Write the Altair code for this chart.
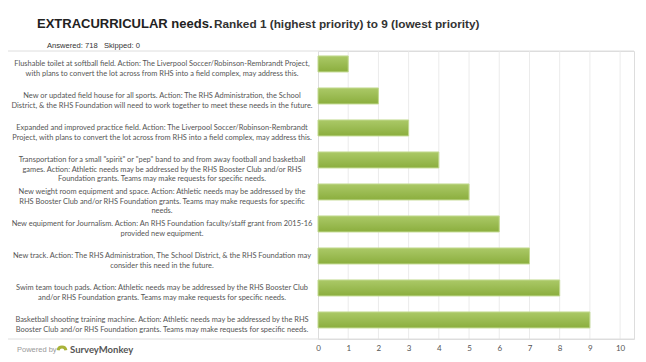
import altair as alt
import pandas as pd

TITLE_MAIN = "EXTRACURRICULAR needs."
TITLE_SUB = "Ranked 1 (highest priority) to 9 (lowest priority)"
ANSWERED = "Answered: 718"
SKIPPED = "Skipped: 0"
POWERED = "Powered by"
BRAND = "SurveyMonkey"

LABELS = [
    ["Flushable toilet at softball field. Action: The Liverpool Soccer/Robinson-Rembrandt Project,",
     "with plans to convert the lot across from RHS into a field complex, may address this."],
    ["New or updated field house for all sports. Action: The RHS Administration, the School",
     "District, & the RHS Foundation will need to work together to meet these needs in the future."],
    ["Expanded and improved practice field. Action: The Liverpool Soccer/Robinson-Rembrandt",
     "Project, with plans to convert the lot across from RHS into a field complex, may address this."],
    ["Transportation for a small \"spirit\" or \"pep\" band to and from away football and basketball",
     "games. Action: Athletic needs may be addressed by the RHS Booster Club and/or RHS",
     "Foundation grants. Teams may make requests for specific needs."],
    ["New weight room equipment and space. Action: Athletic needs may be addressed by the",
     "RHS Booster Club and/or RHS Foundation grants. Teams may make requests for specific",
     "needs."],
    ["New equipment for Journalism. Action: An RHS Foundation faculty/staff grant from 2015-16",
     "provided new equipment."],
    ["New track. Action: The RHS Administration, The School District, & the RHS Foundation may",
     "consider this need in the future."],
    ["Swim team touch pads. Action: Athletic needs may be addressed by the RHS Booster Club",
     "and/or RHS Foundation grants. Teams may make requests for specific needs."],
    ["Basketball shooting training machine. Action: Athletic needs may be addressed by the RHS",
     "Booster Club and/or RHS Foundation grants. Teams may make requests for specific needs."],
]
VALUES = [1, 2, 3, 4, 5, 6, 7, 8, 9]
TICKS = list(range(0, 11))
GRID = list(range(1, 11))

df = pd.DataFrame({
    "key": ["|".join(l) for l in LABELS],
    "value": VALUES,
})
grid_df = pd.DataFrame({"value": GRID})
one = pd.DataFrame({"a": [0]})

W, H = 316, 288

yenc = alt.Y("key:N", sort=None, axis=None,
             scale=alt.Scale(paddingInner=0.5, paddingOuter=0.25, align=0.31))
xscale = alt.Scale(domain=[0, 10.46], nice=False, zero=True)
xaxis = alt.Axis(values=TICKS, grid=False, domain=False, ticks=False,
                 labelFont="Lato", labelFontSize=8, labelColor="#555555",
                 labelPadding=5, title=None, labelFlush=False)
xenc = alt.X("value:Q", scale=xscale, axis=xaxis)

grid = alt.Chart(grid_df).mark_rule(color="#ebebeb", strokeWidth=1).encode(x=xenc)

hlines = alt.Chart(one).mark_rule(color="#dedede", strokeWidth=1).encode(
    x=alt.value(-316), x2=alt.value(316), y=alt.value(0)
) + alt.Chart(one).mark_rule(color="#dedede", strokeWidth=1).encode(
    x=alt.value(-316), x2=alt.value(316), y=alt.value(H)
)

bars = alt.Chart(df).mark_bar(
    color=alt.Gradient(
        gradient="linear",
        stops=[alt.GradientStop(color="#abc967", offset=0),
               alt.GradientStop(color="#8bae3e", offset=1)],
        x1=0, x2=0, y1=0, y2=1),
    stroke="#c3da92", strokeWidth=1,
).encode(x=xenc, y=yenc)

labels = alt.Chart(df).mark_text(
    align="center", baseline="middle", lineBreak="|", font="Lato",
    fontSize=7.45, color="#555555", lineHeight=9.6
).encode(
    y=yenc, text="key:N", x=alt.value(-156)
)

def txt(s, x, y, size, color, weight="normal", font="Liberation Sans",
        align="left", baseline="alphabetic"):
    return alt.Chart(one).mark_text(
        text=s, align=align, baseline=baseline, fontSize=size, color=color,
        fontWeight=weight, font=font
    ).encode(x=alt.value(x), y=alt.value(y))

title1 = txt(TITLE_MAIN, -281, -23, 13, "#222222", "bold")
title2 = txt(TITLE_SUB, -104, -23, 11.8, "#333333", "bold")
ans = txt(ANSWERED, -271, -3, 7.6, "#333333")
skp = txt(SKIPPED, -214, -3, 7.6, "#333333")
powered = txt(POWERED, -301, 299, 7.5, "#999999", baseline="middle")
brand = txt(BRAND, -248, 299, 9.5, "#555555", "bold", font="Lato", baseline="middle")
logo = alt.Chart(one).mark_arc(
    innerRadius=2.5, outerRadius=5.5, theta=4.9, theta2=7.66, color="#a9b33a"
).encode(x=alt.value(-256), y=alt.value(300))

chart = alt.layer(
    grid, hlines, bars, labels, title1, title2, ans, skp, powered, logo, brand
).properties(
    width=W, height=H,
    autosize=alt.AutoSizeParams(type="none"),
    padding={"left": 310, "top": 43, "right": 4, "bottom": 17},
).configure_view(stroke=None).configure(background="white")

chart.save("out.html", embed_options={"renderer": "svg", "actions": False})
